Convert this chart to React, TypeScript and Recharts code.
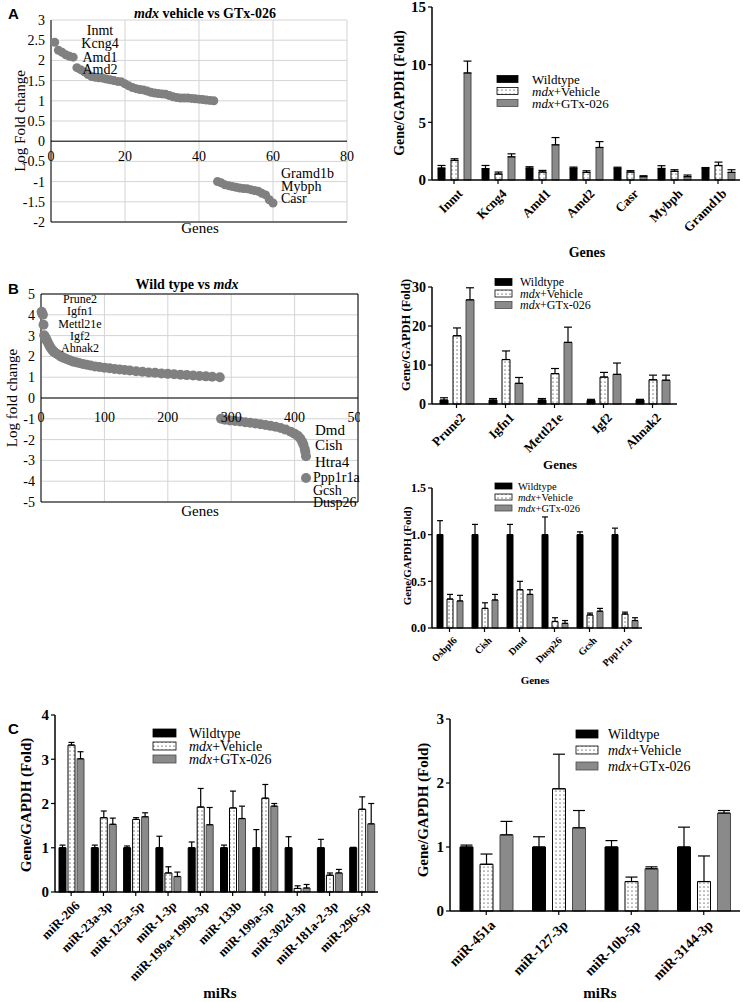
import React from 'react';
import {
  BarChart, Bar, XAxis, YAxis, ErrorBar, ScatterChart, Scatter,
  CartesianGrid, ReferenceLine,
} from 'recharts';

const SERIF = '"Liberation Serif", "Times New Roman", serif';
const SANS = '"Liberation Sans", Arial, sans-serif';
const GTX_FILL = '#8a8a8a';
const GTX_STROKE = '#4a4a4a';
const DOT_GREY = '#808080';

const seriesNames = ['Wildtype', 'mdx+Vehicle', 'mdx+GTx-026'];

// ---- A: mdx vehicle vs GTx-026 (log fold change) ----
const aUp: [number, number][] = [
  [1, 2.45], [2, 2.25], [3, 2.2], [4, 2.14], [5, 2.1], [6, 2.08], [7, 1.82], [8, 1.77],
  [9, 1.72], [10, 1.65], [11, 1.6], [12, 1.58], [13, 1.57], [14, 1.56], [15, 1.54],
  [16, 1.52], [17, 1.5], [18, 1.48], [19, 1.47], [20, 1.42], [21, 1.37], [22, 1.33],
  [23, 1.3], [24, 1.28], [25, 1.27], [26, 1.24], [27, 1.21], [28, 1.19], [29, 1.18],
  [30, 1.17], [31, 1.16], [32, 1.13], [33, 1.1], [34, 1.08], [35, 1.07], [36, 1.07],
  [37, 1.07], [38, 1.06], [39, 1.05], [40, 1.04], [41, 1.03], [42, 1.02], [43, 1.01], [44, 1.0],
];
const aDown: [number, number][] = [
  [45, -1.0], [46, -1.03], [47, -1.08], [48, -1.1], [49, -1.12], [50, -1.14], [51, -1.16],
  [52, -1.17], [53, -1.18], [54, -1.2], [55, -1.22], [56, -1.24], [57, -1.29], [58, -1.33],
  [59, -1.45], [60, -1.53],
];
const aUpLabels = ['Inmt', 'Kcng4', 'Amd1', 'Amd2'];
const aDownLabels = ['Gramd1b', 'Mybph', 'Casr'];
const aXTicks = [0, 20, 40, 60, 80];
const aYTicks = [3, 2.5, 2, 1.5, 1, 0.5, 0, -0.5, -1, -1.5, -2];

// ---- A: qPCR genes ----
const aGenes = ['Inmt', 'Kcng4', 'Amd1', 'Amd2', 'Casr', 'Mybph', 'Gramd1b'];
const aWt = [1.03, 0.98, 1.03, 1.02, 1.02, 1.0, 1.02];
const aWtErr = [0.23, 0.28, 0.12, 0.1, 0.09, 0.24, 0.06];
const aVeh = [1.7, 0.52, 0.69, 0.66, 0.69, 0.75, 1.26];
const aVehErr = [0.14, 0.17, 0.14, 0.14, 0.12, 0.14, 0.29];
const aGtx = [9.28, 2.01, 3.05, 2.82, 0.29, 0.29, 0.66];
const aGtxErr = [1.03, 0.26, 0.63, 0.51, 0.08, 0.14, 0.23];

// ---- B: Wild type vs mdx (log fold change) ----
const bUp: [number, number][] = [
  [1, 4.15], [2, 4.05], [3, 4.0], [4, 3.52], [5, 3.02], [6, 2.96], [7, 2.9], [8, 2.84],
  [9, 2.78], [10, 2.72], [12, 2.6], [14, 2.48], [16, 2.38], [18, 2.3], [20, 2.23], [23, 2.16],
  [26, 2.1], [29, 2.04], [32, 1.99], [36, 1.93], [40, 1.88], [45, 1.82], [50, 1.76], [55, 1.72],
  [60, 1.68], [66, 1.64], [72, 1.6], [78, 1.56], [85, 1.52], [92, 1.49], [100, 1.46],
  [108, 1.43], [116, 1.4], [124, 1.37], [132, 1.35], [140, 1.32], [150, 1.29], [160, 1.26],
  [170, 1.23], [180, 1.21], [190, 1.18], [200, 1.16], [210, 1.14], [220, 1.12], [230, 1.1],
  [240, 1.08], [250, 1.06], [260, 1.04], [270, 1.02], [282, 1.0],
];
const bDown: [number, number][] = [
  [284, -1.0], [290, -1.04], [298, -1.08], [306, -1.1], [314, -1.13], [322, -1.16],
  [330, -1.19], [338, -1.22], [346, -1.26], [354, -1.3], [362, -1.34], [370, -1.38],
  [378, -1.44], [386, -1.52], [394, -1.62], [400, -1.72], [405, -1.82], [409, -1.95],
  [412, -2.1], [414, -2.25], [416, -2.45], [417, -2.6], [418, -2.8], [418, -3.85],
];
const bUpLabels = ['Prune2', 'Igfn1', 'Mettl21e', 'Igf2', 'Ahnak2'];
const bDownLabels = ['Dmd', 'Cish', 'Htra4', 'Ppp1r1a', 'Gcsh', 'Dusp26'];
const bXTicks = [0, 100, 200, 300, 400, 500];
const bYTicks = [5, 4, 3, 2, 1, 0, -1, -2, -3, -4, -5];

// ---- B: upregulated genes ----
const bUpGenes = ['Prune2', 'Igfn1', 'Mettl21e', 'Igf2', 'Ahnak2'];
const bUpWt = [1.0, 1.0, 1.0, 0.9, 1.0];
const bUpWtErr = [0.6, 0.4, 0.4, 0.3, 0.2];
const bUpVeh = [17.5, 11.4, 7.8, 6.9, 6.2];
const bUpVehErr = [2.0, 2.2, 1.3, 1.2, 1.2];
const bUpGtx = [26.7, 5.3, 15.8, 7.6, 6.1];
const bUpGtxErr = [3.1, 1.5, 3.9, 2.9, 1.3];

// ---- B: downregulated genes ----
const bDnGenes = ['Osbpl6', 'Cish', 'Dmd', 'Dusp26', 'Gcsh', 'Ppp1r1a'];
const bDnWt = [1.0, 1.0, 1.0, 1.0, 1.0, 1.0];
const bDnWtErr = [0.15, 0.11, 0.11, 0.19, 0.03, 0.07];
const bDnVeh = [0.31, 0.21, 0.41, 0.07, 0.14, 0.15];
const bDnVehErr = [0.05, 0.06, 0.09, 0.04, 0.02, 0.02];
const bDnGtx = [0.29, 0.3, 0.36, 0.05, 0.18, 0.08];
const bDnGtxErr = [0.06, 0.06, 0.05, 0.03, 0.03, 0.03];

// ---- C: miRs (left) ----
const cMirs = ['miR-206', 'miR-23a-3p', 'miR-125a-5p', 'miR-1-3p', 'miR-199a+199b-3p',
  'miR-133b', 'miR-199a-5p', 'miR-302d-3p', 'miR-181a-2-3p', 'miR-296-5p'];
const cWt = [1, 1, 1, 1, 1, 1, 1, 1, 1, 1];
const cWtErr = [0.06, 0.06, 0.04, 0.26, 0.13, 0.06, 0.41, 0.25, 0.19, 0.01];
const cVeh = [3.32, 1.68, 1.64, 0.43, 1.92, 1.9, 2.12, 0.08, 0.38, 1.87];
const cVehErr = [0.06, 0.15, 0.04, 0.14, 0.42, 0.38, 0.31, 0.06, 0.05, 0.28];
const cGtx = [3.01, 1.53, 1.7, 0.35, 1.52, 1.66, 1.94, 0.09, 0.43, 1.54];
const cGtxErr = [0.16, 0.14, 0.09, 0.1, 0.39, 0.28, 0.06, 0.08, 0.08, 0.46];

// ---- C: miRs (right) ----
const c2Mirs = ['miR-451a', 'miR-127-3p', 'miR-10b-5p', 'miR-3144-3p'];
const c2Wt = [1.0, 1.0, 1.0, 1.0];
const c2WtErr = [0.03, 0.16, 0.1, 0.31];
const c2Veh = [0.73, 1.91, 0.46, 0.46];
const c2VehErr = [0.16, 0.54, 0.07, 0.4];
const c2Gtx = [1.19, 1.3, 0.66, 1.53];
const c2GtxErr = [0.21, 0.27, 0.03, 0.04];

const rotTick = (fs: number) => (props: any) => {
  const { x, y, payload } = props;
  const px = x + 3;
  const py = y + 2;
  return (
    <text x={px} y={py} transform={`rotate(-45 ${px} ${py})`} textAnchor="end" dy="0.7em"
      fontFamily={SERIF} fontWeight="bold" fontSize={fs} fill="#000">
      {payload.value}
    </text>
  );
};

type BarPanelProps = {
  left: number; top: number; width: number; height: number;
  mTop: number; mRight: number; yW: number; xH: number;
  cats: string[]; wt: number[]; wtErr: number[]; veh: number[]; vehErr: number[];
  gtx: number[]; gtxErr: number[];
  yMax: number; yTicks: number[]; fmt?: (v: number) => string;
  yFont: number; xFont: number; barSize: number; barGap: number; capW: number;
};

const BarPanel = (p: BarPanelProps) => {
  const data = p.cats.map((c, i) => ({
    name: c,
    wt: p.wt[i], wtE: [0, p.wtErr[i]],
    veh: p.veh[i], vehE: [0, p.vehErr[i]],
    gtx: p.gtx[i], gtxE: [0, p.gtxErr[i]],
  }));
  return (
    <div style={{ position: 'absolute', left: p.left, top: p.top }}>
      <BarChart width={p.width} height={p.height} data={data}
        margin={{ top: p.mTop, right: p.mRight, bottom: 0, left: 0 }}
        barSize={p.barSize} barGap={p.barGap}>
        <XAxis dataKey="name" height={p.xH} interval={0} tick={rotTick(p.xFont)}
          axisLine={{ stroke: '#000', strokeWidth: 1.5 }} tickLine={{ stroke: '#000', strokeWidth: 1.2 }}
          tickSize={4} />
        <YAxis width={p.yW} domain={[0, p.yMax]} ticks={p.yTicks} interval={0}
          tickFormatter={p.fmt} axisLine={{ stroke: '#000', strokeWidth: 1.5 }}
          tickLine={{ stroke: '#000', strokeWidth: 1.2 }} tickSize={4} tickMargin={2}
          tick={{ fontFamily: SERIF, fontWeight: 'bold', fontSize: p.yFont, fill: '#000' }} />
        <Bar dataKey="wt" fill="#000" stroke="#000" isAnimationActive={false}>
          <ErrorBar dataKey="wtE" width={p.capW} stroke="#000" strokeWidth={1.2} />
        </Bar>
        <Bar dataKey="veh" fill="url(#dots)" stroke="#000" strokeWidth={1} isAnimationActive={false}>
          <ErrorBar dataKey="vehE" width={p.capW} stroke="#000" strokeWidth={1.2} />
        </Bar>
        <Bar dataKey="gtx" fill={GTX_FILL} stroke={GTX_STROKE} strokeWidth={1} isAnimationActive={false}>
          <ErrorBar dataKey="gtxE" width={p.capW} stroke="#000" strokeWidth={1.2} />
        </Bar>
      </BarChart>
    </div>
  );
};

type ScatterPanelProps = {
  left: number; top: number; width: number; height: number;
  pl: number; pr: number; pt: number; pb: number;
  xDomain: [number, number]; yDomain: [number, number];
  xTicks: number[]; yTicks: number[];
  points: [number, number][]; r: number; frame: boolean; xOff: number; fs: number;
};

const ScatterPanel = (p: ScatterPanelProps) => {
  const zeroY = p.pt + (p.yDomain[1] / (p.yDomain[1] - p.yDomain[0])) * (p.pb - p.pt);
  const data = p.points.map(([x, y]) => ({ x, y }));
  const axisTick = { fontFamily: SERIF, fontSize: p.fs, fill: '#000' };
  return (
    <div style={{ position: 'absolute', left: p.left, top: p.top, width: p.width, height: p.height, overflow: 'hidden' }}>
      <ScatterChart width={p.width} height={p.height}
        margin={{ top: p.pt, right: p.width - p.pr, bottom: 0, left: 0 }}>
        <CartesianGrid stroke="#d4d4d4" />
        <XAxis type="number" dataKey="x" domain={p.xDomain} ticks={p.xTicks} interval={0}
          height={p.height - p.pb} axisLine={{ stroke: '#000' }} tickLine={false}
          tick={(t: any) => (
            <text x={t.x} y={zeroY + p.xOff} textAnchor="middle" {...axisTick}>{t.payload.value}</text>
          )} />
        <YAxis type="number" dataKey="y" domain={p.yDomain} ticks={p.yTicks} interval={0}
          width={p.pl} axisLine={{ stroke: '#000' }} tickLine={false} tickSize={0} tickMargin={6}
          tick={axisTick} />
        <ReferenceLine y={0} stroke="#000" />
        {p.frame && <ReferenceLine y={p.yDomain[1]} stroke="#000" />}
        {p.frame && <ReferenceLine x={p.xDomain[1]} stroke="#000" />}
        <Scatter data={data} isAnimationActive={false}
          shape={(s: any) => <circle cx={s.cx} cy={s.cy} r={p.r} fill={DOT_GREY} />} />
      </ScatterChart>
    </div>
  );
};

const SeriesLabel = ({ name }: { name: string }) =>
  name.startsWith('mdx')
    ? <><tspan fontStyle="italic">mdx</tspan>{name.slice(3)}</>
    : <>{name}</>;

const Legend = ({ x, y, sw, sh, tx, rowH, fs }: { x: number; y: number; sw: number; sh: number; tx: number; rowH: number; fs: number }) => {
  const fills = ['#000', 'url(#dots)', GTX_FILL];
  const strokes = ['#000', '#000', GTX_STROKE];
  return (
    <g>
      {seriesNames.map((n, i) => (
        <g key={n}>
          <rect x={x} y={y + i * rowH - sh / 2} width={sw} height={sh} fill={fills[i]} stroke={strokes[i]} strokeWidth={0.8} />
          <text x={tx} y={y + i * rowH} dominantBaseline="central" fontFamily={SERIF} fontSize={fs} fill="#000">
            <SeriesLabel name={n} />
          </text>
        </g>
      ))}
    </g>
  );
};

const T = ({ x, y, children, fs = 14, bold = false, anchor = 'middle', rot = 0, family = SERIF }: any) => (
  <text x={x} y={y} fontSize={fs} fontWeight={bold ? 'bold' : 'normal'} textAnchor={anchor}
    fontFamily={family} fill="#000" transform={rot ? `rotate(${rot} ${x} ${y})` : undefined}>
    {children}
  </text>
);

export default function App() {
  const aUpY = [35, 48, 62, 74];
  const aDnY = [178, 191, 203];
  const bUpY = [303, 315, 328, 340, 352];
  const bDnY = [435, 450, 467, 482, 495, 507];
  return (
    <div style={{ position: 'absolute', left: 0, top: 0, width: 744, height: 1002, background: '#fff', overflow: 'hidden' }}>
      <svg width={0} height={0} style={{ position: 'absolute' }}>
        <defs>
          <pattern id="dots" width={4} height={4} patternUnits="userSpaceOnUse">
            <rect width={4} height={4} fill="#fff" />
            <circle cx={2} cy={2} r={0.6} fill="#000" />
          </pattern>
        </defs>
      </svg>

      <ScatterPanel left={0} top={0} width={360} height={240} pl={51} pr={347} pt={20} pb={222}
        xDomain={[0, 80]} yDomain={[-2, 3]} xTicks={aXTicks} yTicks={aYTicks}
        points={[...aUp, ...aDown]} r={4.5} frame={false} xOff={20} fs={14} />

      <BarPanel left={370} top={0} width={374} height={270} mTop={7} mRight={4} yW={62} xH={90}
        cats={aGenes} wt={aWt} wtErr={aWtErr} veh={aVeh} vehErr={aVehErr} gtx={aGtx} gtxErr={aGtxErr}
        yMax={15} yTicks={[0, 5, 10, 15]} yFont={15} xFont={13} barSize={7} barGap={6} capW={4} />

      <ScatterPanel left={0} top={280} width={360} height={232} pl={41} pr={358} pt={14} pb={222}
        xDomain={[0, 500]} yDomain={[-5, 5]} xTicks={bXTicks} yTicks={bYTicks}
        points={[...bUp, ...bDown]} r={5} frame={true} xOff={24} fs={14} />

      <BarPanel left={375} top={280} width={310} height={230} mTop={7} mRight={8} yW={57} xH={106}
        cats={bUpGenes} wt={bUpWt} wtErr={bUpWtErr} veh={bUpVeh} vehErr={bUpVehErr} gtx={bUpGtx} gtxErr={bUpGtxErr}
        yMax={30} yTicks={[0, 10, 20, 30]} yFont={14} xFont={13} barSize={8} barGap={5} capW={4} />

      <BarPanel left={375} top={480} width={275} height={230} mTop={8} mRight={8} yW={57} xH={82}
        cats={bDnGenes} wt={bDnWt} wtErr={bDnWtErr} veh={bDnVeh} vehErr={bDnVehErr} gtx={bDnGtx} gtxErr={bDnGtxErr}
        yMax={1.5} yTicks={[0, 0.5, 1, 1.5]} fmt={(v) => v.toFixed(1)} yFont={12} xFont={10}
        barSize={6} barGap={4} capW={3} />

      <BarPanel left={0} top={705} width={385} height={297} mTop={10} mRight={7} yW={55} xH={110}
        cats={cMirs} wt={cWt} wtErr={cWtErr} veh={cVeh} vehErr={cVehErr} gtx={cGtx} gtxErr={cGtxErr}
        yMax={4} yTicks={[0, 1, 2, 3, 4]} yFont={15} xFont={13} barSize={7} barGap={2} capW={3} />

      <BarPanel left={390} top={709} width={354} height={293} mTop={10} mRight={4} yW={60} xH={91}
        cats={c2Mirs} wt={c2Wt} wtErr={c2WtErr} veh={c2Veh} vehErr={c2VehErr} gtx={c2Gtx} gtxErr={c2GtxErr}
        yMax={3} yTicks={[0, 1, 2, 3]} yFont={15} xFont={14} barSize={13} barGap={7} capW={6} />

      <svg width={744} height={1002} style={{ position: 'absolute', left: 0, top: 0, pointerEvents: 'none' }}>
        {/* panel A */}
        <T x={8} y={19} fs={15} bold anchor="start" family={SANS}>A</T>
        <T x={205} y={18} fs={14} bold><tspan fontStyle="italic">mdx</tspan> vehicle vs GTx-026</T>
        <T x={25} y={121} fs={15} rot={-90}>Log Fold change</T>
        <T x={200} y={233} fs={15}>Genes</T>
        {aUpLabels.map((l, i) => <T key={l} x={100} y={aUpY[i]} fs={14}>{l}</T>)}
        {aDownLabels.map((l, i) => <T key={l} x={281} y={aDnY[i]} fs={14} anchor="start">{l}</T>)}
        <T x={404} y={93} fs={14} bold rot={-90}>Gene/GAPDH (Fold)</T>
        <T x={587} y={257} fs={14} bold>Genes</T>
        <Legend x={497} y={79} sw={21} sh={7} tx={532} rowH={12} fs={13} />

        {/* panel B */}
        <T x={8} y={294} fs={15} bold anchor="start" family={SANS}>B</T>
        <T x={187} y={289} fs={14} bold>Wild type vs <tspan fontStyle="italic">mdx</tspan></T>
        <T x={17} y={398} fs={15} rot={-90}>Log fold change</T>
        <T x={200} y={516} fs={15}>Genes</T>
        {bUpLabels.map((l, i) => <T key={l} x={80} y={bUpY[i]} fs={12}>{l}</T>)}
        {bDownLabels.map((l, i) => <T key={l} x={i < 3 ? 315 : 313} y={bDnY[i]} fs={i < 3 ? 15 : 14} anchor="start">{l}</T>)}
        <T x={410} y={335} fs={12.5} bold rot={-90}>Gene/GAPDH (Fold)</T>
        <T x={560} y={469} fs={13} bold>Genes</T>
        <Legend x={495} y={282} sw={17} sh={7} tx={520} rowH={11.5} fs={12} />
        <T x={411} y={556} fs={11} bold rot={-90}>Gene/GAPDH (Fold)</T>
        <T x={535} y={684} fs={11} bold>Genes</T>
        <Legend x={495} y={486} sw={17} sh={6} tx={518} rowH={11} fs={10.5} />

        {/* panel C */}
        <T x={8} y={734} fs={15} bold anchor="start" family={SANS}>C</T>
        <T x={31} y={805} fs={15} bold rot={-90}>Gene/GAPDH (Fold)</T>
        <T x={220} y={998} fs={15} bold>miRs</T>
        <Legend x={153} y={733} sw={23} sh={8} tx={189} rowH={13} fs={14} />
        <T x={428} y={810} fs={15} bold rot={-90}>Gene/GAPDH (Fold)</T>
        <T x={600} y={998} fs={15} bold>miRs</T>
        <Legend x={576} y={734} sw={22} sh={8} tx={608} rowH={16} fs={14} />
      </svg>
    </div>
  );
}
